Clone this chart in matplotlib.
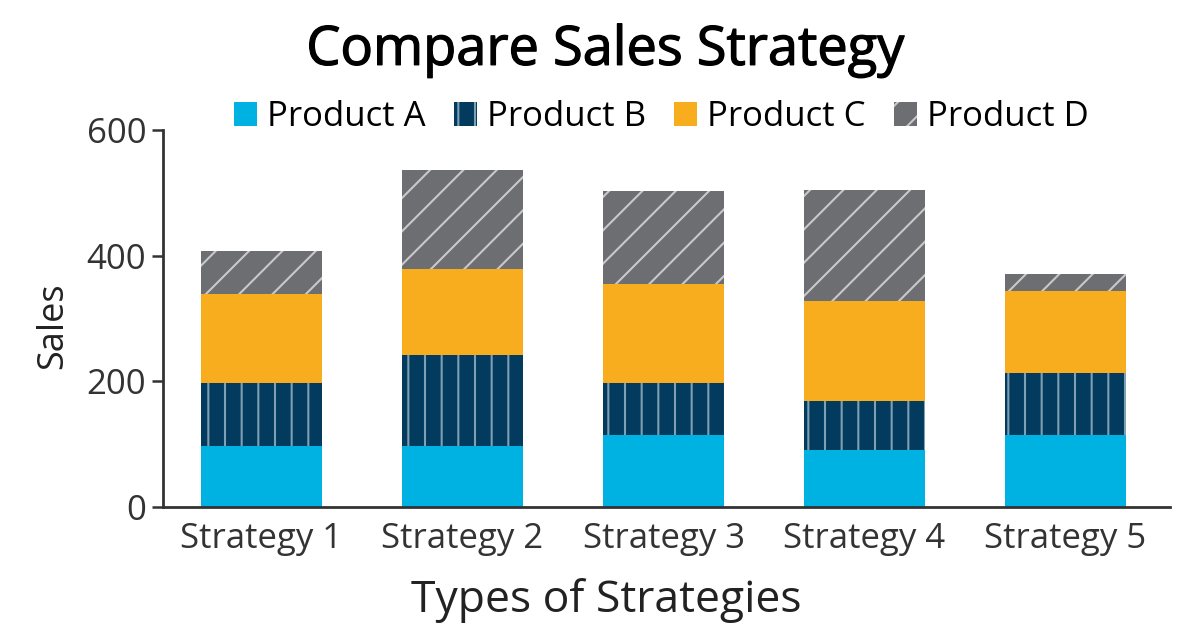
import numpy as np
import matplotlib
matplotlib.use("Agg")
import matplotlib.pyplot as plt
import matplotlib.patheffects as pe

# Data
strategies = ["Strategy 1", "Strategy 2", "Strategy 3", "Strategy 4", "Strategy 5"]
product_a = [97, 97, 114, 91, 114]
product_b = [100, 145, 83, 78, 99]
product_c = [142, 137, 158, 158, 131]
product_d = [68, 157, 148, 177, 26]

plt.rcParams['font.family'] = ['Open Sans', 'DejaVu Sans']
plt.rcParams['hatch.linewidth'] = 1.5

fig = plt.figure(figsize=(12.03, 6.37), dpi=100)
ax = fig.add_axes([0.1355, 0.2046, 0.8371, 0.5914])

x = np.arange(len(strategies))
w = 0.6
series = [
    ("Product A", product_a, "#00b2e1", None, "#00b2e1"),
    ("Product B", product_b, "#023b5e", "|", "#7f9fb3"),
    ("Product C", product_c, "#f8ad1f", None, "#f8ad1f"),
    ("Product D", product_d, "#6d6e71", "/", "#c9c9c9"),
]
bottom = np.zeros(len(strategies))
for label, vals, color, hatch, hcol in series:
    ax.bar(x, vals, w, bottom=bottom, color=color, hatch=hatch,
           edgecolor=hcol, linewidth=0, label=label)
    bottom += np.array(vals)

ax.set_xlim(-0.49, 4.52)
ax.set_ylim(0, 600)
ax.set_yticks([0, 200, 400, 600])
ax.set_xticks(x)
ax.set_xticklabels(strategies)
ax.tick_params(axis='x', length=0, labelsize=25, colors='#333333', pad=11)
ax.tick_params(axis='y', length=8, width=1.8, labelsize=25, colors='#333333',
               pad=4)

for s in ['top', 'right']:
    ax.spines[s].set_visible(False)
for s in ['left', 'bottom']:
    ax.spines[s].set_linewidth(2)
    ax.spines[s].set_color('#333333')

ax.set_xlabel("Types of Strategies", fontsize=32, color='#222222')
ax.xaxis.set_label_coords(0.44, -0.19)
ax.set_ylabel("Sales", fontsize=26, color='#222222')
ax.yaxis.set_label_coords(-0.091, 0.48)

fig.text(0.503, 0.921, "Compare Sales Strategy", fontsize=39,
         ha='center', va='center', color='#000000',
         path_effects=[pe.withStroke(linewidth=0.9, foreground='#000000')])
ax.legend(loc='center', bbox_to_anchor=(0.495, 1.034), ncol=4,
          frameon=False, fontsize=25, handlelength=0.66, handleheight=0.66,
          handletextpad=0.3, columnspacing=0.8, borderaxespad=0)

fig.savefig("out.png", dpi=100)
